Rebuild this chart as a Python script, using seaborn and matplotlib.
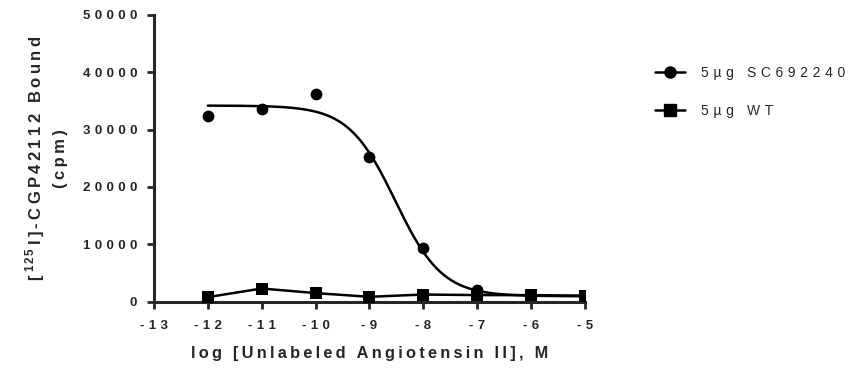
import numpy as np
import pandas as pd
import matplotlib
matplotlib.use("Agg")
import matplotlib.pyplot as plt
from matplotlib.lines import Line2D
import seaborn as sns

# datos
log_conc = [-12, -11, -10, -9, -8, -7, -6, -5]
sc692240 = [32400, 33600, 36300, 25300, 9300, 2100, 1200, 1000]
wt = [800, 2300, 1500, 850, 1250, 1150, 1150, 1050]
series_labels = ["5\u00b5g SC692240", "5\u00b5g WT"]

# parametros del ajuste (one site, log IC50)
fit_top = 34200
fit_bottom = 950
fit_logic50 = -8.52
fit_hill = 1.0


def espaciado(texto, sep="\u2009"):
    # texto con letras separadas, como en la figura original
    return sep.join(texto)


sns.set_style("ticks")
plt.rcParams['font.family'] = ['Liberation Sans', 'DejaVu Sans']
plt.rcParams['mathtext.fontset'] = 'custom'
plt.rcParams['mathtext.rm'] = 'Liberation Sans:bold'
plt.rcParams['mathtext.bf'] = 'Liberation Sans:bold'

fig = plt.figure(figsize=(8.54, 3.70), dpi=100)
ax = fig.add_axes([0.1803, 0.1846, 0.5047, 0.775])

# curva ajustada
xs = np.linspace(-12, -5, 300)
ys = fit_bottom + (fit_top - fit_bottom) / (1 + 10 ** ((xs - fit_logic50) * fit_hill))
curva = pd.DataFrame({"x": xs, "y": ys})
sns.lineplot(x="x", y="y", data=curva, color="black", linewidth=1.8, ax=ax)

df = pd.DataFrame({"x": log_conc, "sc": sc692240, "wt": wt})
sns.scatterplot(x="x", y="sc", data=df, marker="o", s=72, color="black",
                edgecolor="black", linewidth=0, ax=ax, zorder=4)
sns.lineplot(x="x", y="wt", data=df, marker="s", markersize=8, color="black",
             linewidth=1.8, markeredgewidth=0, ax=ax, zorder=4)

ax.set_xlim(-13, -5)
ax.set_ylim(0, 50000)
xt = list(range(-13, -4))
yt = list(range(0, 50001, 10000))
ax.set_xticks(xt)
ax.set_yticks(yt)
ax.set_xticklabels([espaciado(str(v), "\u2004") for v in xt])
ax.set_yticklabels([espaciado(str(v), "\u2004") for v in yt])
sns.despine(ax=ax)
for s in ["left", "bottom"]:
    ax.spines[s].set_linewidth(2.2)
ax.tick_params(width=2, length=5, labelsize=9.5, pad=7)
ax.tick_params(axis="x", pad=8)
for lab in ax.get_xticklabels() + ax.get_yticklabels():
    lab.set_fontweight("bold")

ax.set_xlabel(espaciado("log [Unlabeled Angiotensin II], M"), fontsize=11.8,
              fontweight="bold", labelpad=10)
ax.set_ylabel("[\u2009$^{1\\,2\\,5}$\u2009" + espaciado("I]-CGP42112 Bound")
              + "\n" + espaciado("(cpm)"), fontsize=12,
              fontweight="bold", labelpad=11, linespacing=1.5)

handles = [
    Line2D([0], [0], color="black", marker="o", markersize=8, linewidth=1.8),
    Line2D([0], [0], color="black", marker="s", markersize=8, linewidth=1.8),
]
fig.legend(handles, [espaciado(t, "\u2004") for t in series_labels],
           loc="upper left", bbox_to_anchor=(0.752, 0.855), frameon=False,
           fontsize=10, handlelength=2.2, labelspacing=1.7, handletextpad=1.1)

fig.savefig("out.png", dpi=100)
